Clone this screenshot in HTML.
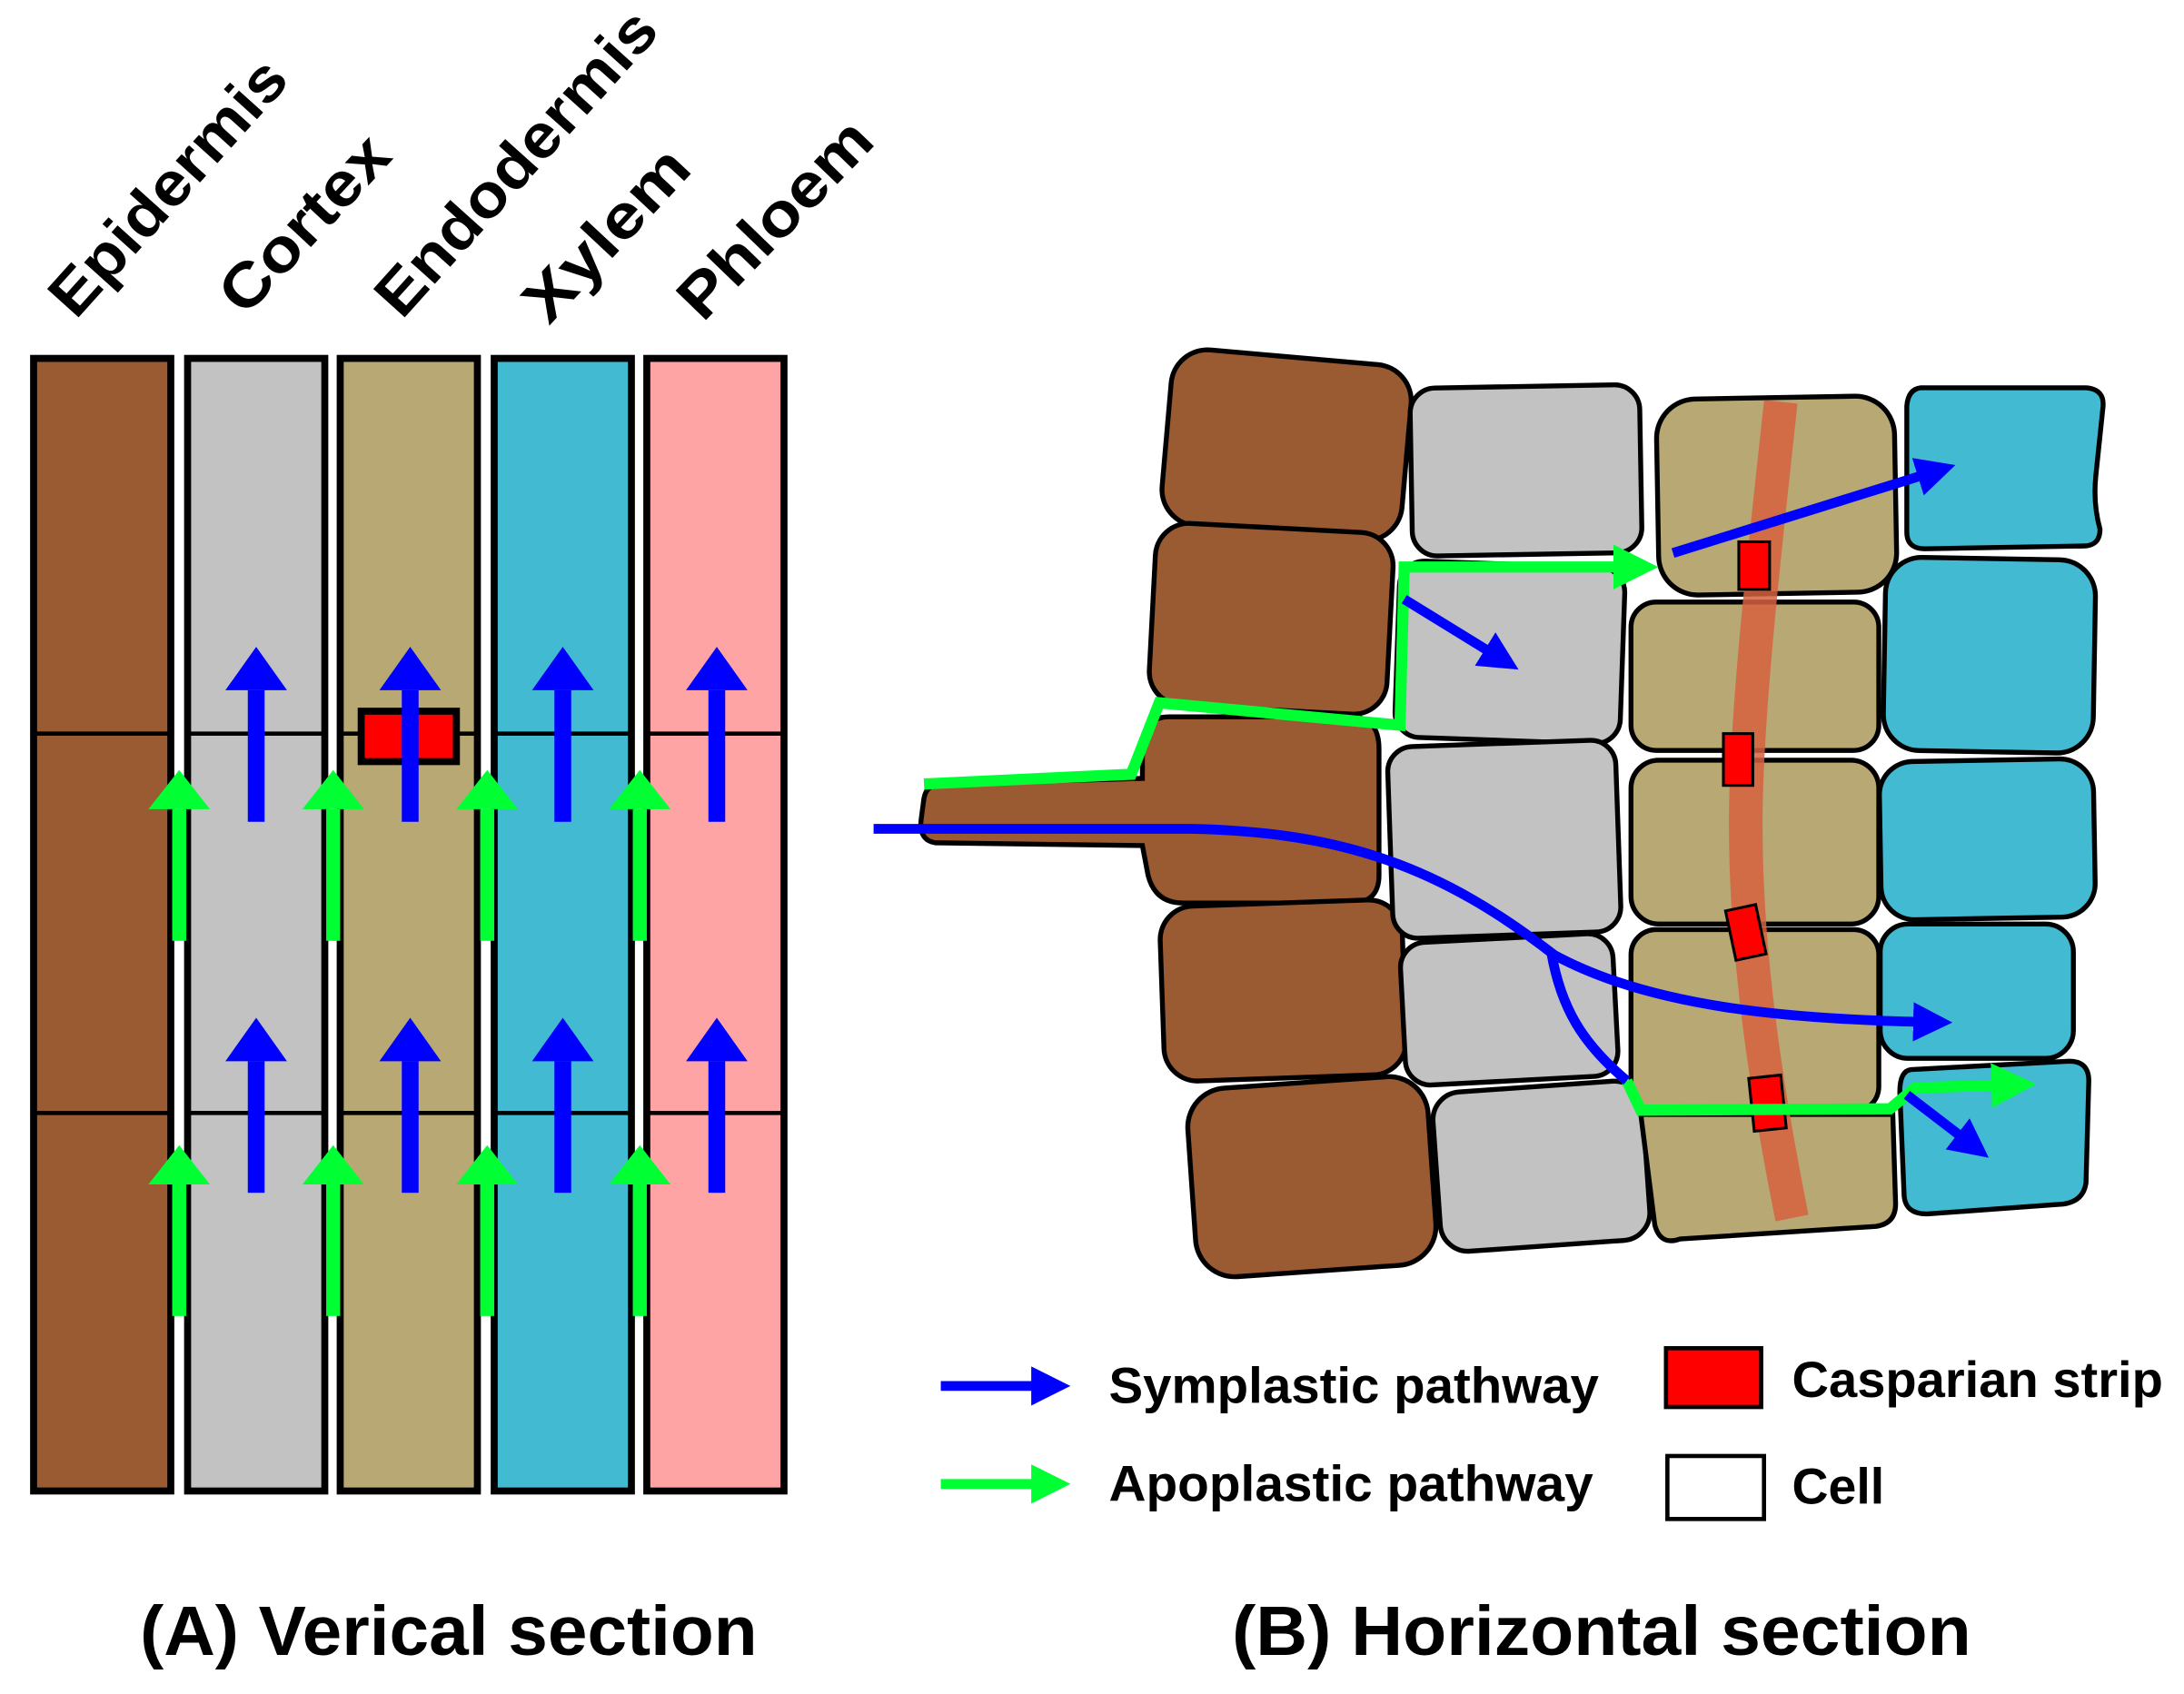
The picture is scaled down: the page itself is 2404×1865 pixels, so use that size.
<!DOCTYPE html>
<html><head><meta charset="utf-8"><style>
html,body{margin:0;padding:0;background:#fff;}
svg{display:block;}
text{font-family:"Liberation Sans",sans-serif;font-weight:bold;fill:#000;}
</style></head><body>
<svg width="2404" height="1865" viewBox="0 0 1560 1210" preserveAspectRatio="none" xmlns="http://www.w3.org/2000/svg">
<defs>
<marker id="bh" markerWidth="4" markerHeight="4" refX="1.2" refY="2" orient="auto" markerUnits="strokeWidth"><path d="M0,0 L4,2 L0,4 z" fill="#0000ff"/></marker>
<marker id="gh" markerWidth="4" markerHeight="4" refX="1.2" refY="2" orient="auto" markerUnits="strokeWidth"><path d="M0,0 L4,2 L0,4 z" fill="#00ff33"/></marker>
<g id="ba" fill="#0000ff"><rect x="-6" y="31" width="12" height="94"/><polygon points="0,0 -22,31 22,31"/></g>
<g id="ga" fill="#00ff33"><rect x="-5" y="28" width="10" height="94"/><polygon points="0,0 -22,28 22,28"/></g>
</defs>
<g font-size="44">
<text transform="translate(54,229) rotate(-48)" textLength="230" lengthAdjust="spacingAndGlyphs">Epidermis</text>
<text transform="translate(175,227) rotate(-47)" textLength="156" lengthAdjust="spacingAndGlyphs">Cortex</text>
<text transform="translate(287,229) rotate(-48)" textLength="277" lengthAdjust="spacingAndGlyphs">Endodermis</text>
<text transform="translate(392,233) rotate(-47)" textLength="152" lengthAdjust="spacingAndGlyphs">Xylem</text>
<text transform="translate(502,231) rotate(-46)" textLength="179" lengthAdjust="spacingAndGlyphs">Phloem</text>
</g>
<g stroke="#000" stroke-width="5">
<rect x="24" y="256" width="98" height="809" fill="#9a5a32"/>
<rect x="134" y="256" width="98" height="809" fill="#c2c2c2"/>
<rect x="243" y="256" width="98" height="809" fill="#b7a874"/>
<rect x="353" y="256" width="98" height="809" fill="#42bad2"/>
<rect x="462" y="256" width="98" height="809" fill="#ffa4a4"/>
<g stroke-width="3">
<line x1="24" y1="524" x2="122" y2="524"/><line x1="134" y1="524" x2="232" y2="524"/><line x1="243" y1="524" x2="341" y2="524"/><line x1="353" y1="524" x2="451" y2="524"/><line x1="462" y1="524" x2="560" y2="524"/>
<line x1="24" y1="795" x2="122" y2="795"/><line x1="134" y1="795" x2="232" y2="795"/><line x1="243" y1="795" x2="341" y2="795"/><line x1="353" y1="795" x2="451" y2="795"/><line x1="462" y1="795" x2="560" y2="795"/>
</g>
<rect x="258" y="508" width="68" height="36" fill="#ff0000"/>
</g>
<use href="#ba" x="183" y="462"/><use href="#ba" x="293" y="462"/><use href="#ba" x="402" y="462"/><use href="#ba" x="512" y="462"/>
<use href="#ba" x="183" y="727"/><use href="#ba" x="293" y="727"/><use href="#ba" x="402" y="727"/><use href="#ba" x="512" y="727"/>
<use href="#ga" x="128" y="550"/><use href="#ga" x="238" y="550"/><use href="#ga" x="348" y="550"/><use href="#ga" x="457" y="550"/>
<use href="#ga" x="128" y="818"/><use href="#ga" x="238" y="818"/><use href="#ga" x="348" y="818"/><use href="#ga" x="457" y="818"/>
<g stroke="#000" stroke-width="3.5">
<g fill="#9a5a32">
<rect x="833" y="255" width="172" height="126" rx="26" transform="rotate(5 919 318)"/>
<rect x="823" y="377" width="170" height="130" rx="24" transform="rotate(3 908 442)"/>
<path d="M835,512 L965,512 Q985,512 985,535 L985,625 Q985,645 965,645 L845,645 Q825,645 820,625 L816,604 L668,602 Q656,600 658,585 L660,570 Q662,560 672,560 L816,556 L816,530 Q818,512 835,512 Z"/>
<rect x="830" y="645" width="173" height="125" rx="24" transform="rotate(-2 916 707)"/>
<rect x="851" y="773" width="172" height="135" rx="28" transform="rotate(-4 937 840)"/>
</g>
<g fill="#c2c2c2">
<rect x="1008" y="276" width="164" height="120" rx="18" transform="rotate(-1 1090 336)"/>
<rect x="998" y="403" width="161" height="126" rx="18" transform="rotate(2 1078 466)"/>
<rect x="993" y="531" width="163" height="137" rx="18" transform="rotate(-2 1074 600)"/>
<rect x="1002" y="670" width="152" height="102" rx="18" transform="rotate(-3 1078 721)"/>
<rect x="1026" y="776" width="150" height="114" rx="20" transform="rotate(-4 1101 833)"/>
</g>
<g fill="#b7a874">
<rect x="1184" y="284" width="170" height="140" rx="28" transform="rotate(-1 1269 354)"/>
<rect x="1165" y="430" width="177" height="106" rx="18"/>
<rect x="1165" y="543" width="177" height="117" rx="20"/>
<rect x="1165" y="664" width="177" height="130" rx="18"/>
<path d="M1172,796 L1352,796 L1354,860 Q1354,874 1340,876 L1200,885 Q1186,890 1182,875 Z"/>
</g>
<g fill="#42bad2">
<path d="M1372,277 L1490,277 Q1504,278 1502,292 L1497,340 Q1495,360 1500,378 Q1500,390 1488,390 L1375,392 Q1362,392 1362,380 L1362,290 Q1363,278 1372,277 Z"/>
<rect x="1346" y="399" width="150" height="138" rx="26" transform="rotate(1 1421 468)"/>
<rect x="1343" y="543" width="153" height="113" rx="24" transform="rotate(-1 1420 600)"/>
<rect x="1343" y="660" width="138" height="96" rx="20"/>
<path d="M1365,764 L1478,758 Q1492,758 1492,772 L1490,845 Q1488,858 1474,860 L1378,867 Q1360,868 1360,852 L1357,780 Q1357,765 1365,764 Z"/>
</g>
</g>
<path d="M1272,287 C1262,380 1248,500 1247,580 C1246,680 1262,780 1280,870" fill="none" stroke="#d6613f" stroke-opacity="0.85" stroke-width="24"/>
<g fill="#ff0000" stroke="#000" stroke-width="2">
<rect x="1242" y="387" width="22" height="34"/>
<rect x="1231" y="524" width="21" height="37"/>
<rect x="1236" y="648" width="22" height="36" transform="rotate(-12 1247 666)"/>
<rect x="1251" y="769" width="23" height="38" transform="rotate(-6 1262 788)"/>
</g>
<g fill="none" stroke="#00ff33" stroke-width="8">
<path d="M660,560 L808,553 L828,502 L1000,518 L1003,405 L1162,405" marker-end="url(#gh)"/>
<path d="M1162,772 L1172,793 L1350,792 L1368,777 L1432,775" marker-end="url(#gh)"/>
</g>
<g fill="none" stroke="#0000ff" stroke-width="7">
<path d="M624,592 L850,592 C960,594 1030,620 1110,682 C1180,720 1280,728 1375,730" marker-end="url(#bh)"/>
<path d="M1108,680 C1115,720 1130,745 1162,772"/>
<path d="M1195,395 L1378,338" marker-end="url(#bh)"/>
<path d="M1003,428 L1068,468" marker-end="url(#bh)"/>
<path d="M1362,782 L1405,815" marker-end="url(#bh)"/>
</g>
<g stroke-width="7" fill="none">
<path d="M672,990 L745,990" stroke="#0000ff" marker-end="url(#bh)"/>
<path d="M672,1060 L745,1060" stroke="#00ff33" marker-end="url(#gh)"/>
</g>
<rect x="1190" y="963" width="68" height="42" fill="#ff0000" stroke="#000" stroke-width="3"/>
<rect x="1191" y="1040" width="69" height="45" fill="#fff" stroke="#000" stroke-width="3"/>
<g font-size="36">
<text x="792" y="1002" textLength="350" lengthAdjust="spacingAndGlyphs">Symplastic pathway</text>
<text x="792" y="1072" textLength="346" lengthAdjust="spacingAndGlyphs">Apoplastic pathway</text>
<text x="1280" y="998" textLength="265" lengthAdjust="spacingAndGlyphs">Casparian strip</text>
<text x="1280" y="1074" textLength="66" lengthAdjust="spacingAndGlyphs">Cell</text>
</g>
<g font-size="50">
<text x="100" y="1182" textLength="441" lengthAdjust="spacingAndGlyphs">(A) Verical section</text>
<text x="880" y="1182" textLength="528" lengthAdjust="spacingAndGlyphs">(B) Horizontal section</text>
</g>
</svg>
</body></html>
